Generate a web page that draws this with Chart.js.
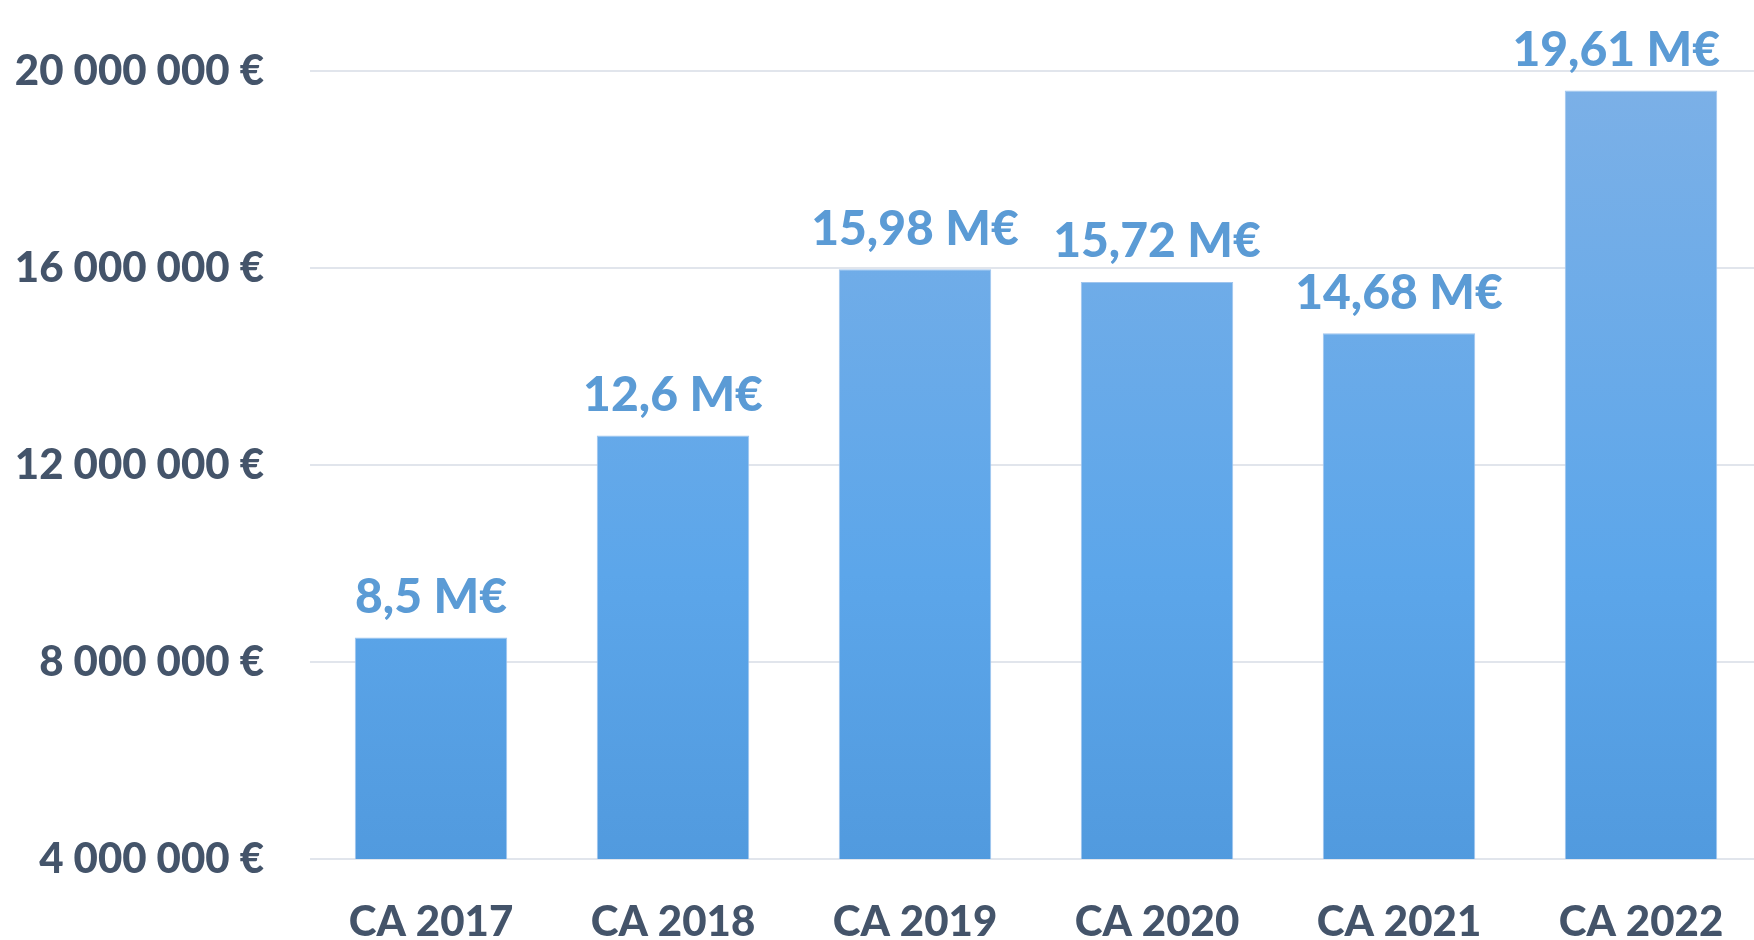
<!DOCTYPE html>
<html>
<head>
<meta charset="utf-8">
<script src="https://cdn.jsdelivr.net/npm/chart.js@4.4.0/dist/chart.umd.min.js"></script>
<style>
  html, body { margin: 0; padding: 0; background: #fff; overflow: hidden; }
  #wrap { width: 1762px; height: 940px; }
</style>
</head>
<body>
<div id="wrap"><canvas id="caChart"></canvas></div>
<script>
const categories = ["CA 2017", "CA 2018", "CA 2019", "CA 2020", "CA 2021", "CA 2022"];
const revenueMillions = [8.5, 12.6, 15.98, 15.72, 14.68, 19.61];
const yTicks = [4000000, 8000000, 12000000, 16000000, 20000000];

const textColor = "#44546A";
const labelColor = "#5B9BD5";
const fontFamily = "Lato, 'Open Sans', sans-serif";

function formatEuro(v) {
  return String(Math.round(v)).replace(/\B(?=(\d{3})+(?!\d))/g, " ") + " €";
}

// gradient per bar, like the office style fill
const barGradient = {
  id: "barGradient",
  beforeDatasetsDraw(chart) {
    const ctx = chart.ctx;
    chart.getDatasetMeta(0).data.forEach((bar) => {
      const g = ctx.createLinearGradient(0, bar.y, 0, bar.base);
      g.addColorStop(0, "#7BB0E7");
      g.addColorStop(0.5, "#5CA6EA");
      g.addColorStop(1, "#4A92D6");
      bar.options.backgroundColor = g;
    });
  }
};

// value labels above each bar, kept inside the visible area
const valueLabels = {
  id: "valueLabels",
  afterDatasetsDraw(chart) {
    const ctx = chart.ctx;
    ctx.save();
    ctx.fillStyle = labelColor;
    ctx.font = "900 48px " + fontFamily;
    ctx.textAlign = "center";
    ctx.textBaseline = "middle";
    const maxRight = 1720;
    chart.getDatasetMeta(0).data.forEach((bar, i) => {
      const txt = String(revenueMillions[i]).replace(".", ",") + " M€";
      const w = ctx.measureText(txt).width;
      const x = Math.min(bar.x, maxRight - w / 2);
      ctx.fillText(txt, x, bar.y - 40);
    });
    ctx.restore();
  }
};

new Chart(document.getElementById("caChart"), {
  type: "bar",
  data: {
    labels: categories,
    datasets: [{
      data: revenueMillions.map((v) => v * 1000000),
      backgroundColor: "#5CA6EA",
      borderColor: "#9FC5EE",
      borderWidth: 1,
      barPercentage: 0.63,
      categoryPercentage: 1
    }]
  },
  options: {
    responsive: true,
    maintainAspectRatio: false,
    animation: false,
    layout: { padding: { top: 68, right: 0, left: 0, bottom: 0 } },
    plugins: {
      legend: { display: false },
      tooltip: { enabled: false }
    },
    scales: {
      x: {
        grid: { display: false },
        border: { display: false },
        ticks: {
          color: textColor,
          font: { family: fontFamily, size: 42, weight: 900 },
          padding: 30
        },
        afterFit(scale) { scale.height = 81; }
      },
      y: {
        min: 4000000,
        max: 20000000,
        afterBuildTicks(scale) { scale.ticks = yTicks.map((v) => ({ value: v })); },
        grid: { color: "#E1E5EC", lineWidth: 2, drawTicks: false },
        border: { display: false },
        ticks: {
          color: textColor,
          font: { family: fontFamily, size: 42, weight: 900 },
          padding: 46,
          callback: (v) => formatEuro(v)
        },
        afterFit(scale) { scale.width = 310; }
      }
    }
  },
  plugins: [barGradient, valueLabels]
});
</script>
</body>
</html>
